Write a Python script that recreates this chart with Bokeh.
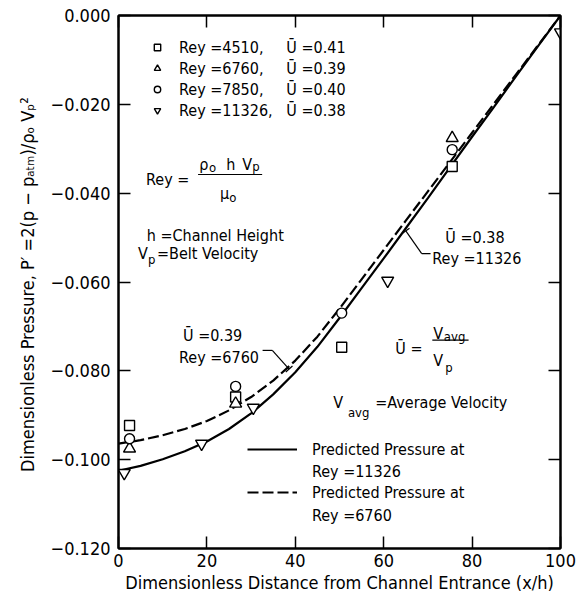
from math import pi
from bokeh.plotting import figure
from bokeh.models import (Range1d, LinearAxis, FixedTicker, CustomJSTickFormatter,
                          Label, Arrow, TeeHead, Legend, LegendItem)
from bokeh.embed import file_html
from bokeh.resources import INLINE

FONT = "DejaVu Sans Condensed, Liberation Sans, sans-serif"

# ---------------- data ----------------
rey4510_x = [2.5, 26.5, 50.5, 75.5]
rey4510_y = [-0.0923, -0.0859, -0.0747, -0.0340]
rey6760_x = [2.5, 26.5, 75.5]
rey6760_y = [-0.0975, -0.0874, -0.0276]
rey7850_x = [2.5, 26.5, 50.5, 75.5]
rey7850_y = [-0.0953, -0.0835, -0.0670, -0.0302]
rey11326_x = [1.3, 18.8, 30.5, 60.9, 100.0]
rey11326_y = [-0.1030, -0.0964, -0.0883, -0.0597, -0.0038]

curve_x = [0, 5, 10, 15, 20, 25, 30, 35, 40, 45, 50, 55, 60, 65, 70, 75, 80, 85, 90, 95, 100]
pred_11326 = [-0.1025, -0.1014, -0.0999, -0.0981, -0.0959, -0.0931, -0.0896, -0.0853, -0.0803,
              -0.0746, -0.0681, -0.0614, -0.0547, -0.0479, -0.0411, -0.0342, -0.0273, -0.0205,
              -0.0136, -0.0068, 0.0]
pred_6760 = [-0.0964, -0.0956, -0.0945, -0.0931, -0.0913, -0.0889, -0.0859, -0.0822, -0.0777,
             -0.0723, -0.0660, -0.0594, -0.0528, -0.0462, -0.0396, -0.0330, -0.0264, -0.0198,
             -0.0132, -0.0066, 0.0]

x_ticks = [0, 20, 40, 60, 80, 100]
y_ticks = [-0.12, -0.10, -0.08, -0.06, -0.04, -0.02, 0.0]

NB = "\u00a0"
series_labels = ["Rey =4510," + NB * 5 + "Ū =0.41",
                 "Rey =6760," + NB * 5 + "Ū =0.39",
                 "Rey =7850," + NB * 5 + "Ū =0.40",
                 "Rey =11326," + NB * 3 + "Ū =0.38"]
line_labels = ["Predicted Pressure at", "Predicted Pressure at"]

x_title = "Dimensionless Distance from Channel Entrance (x/h)"
y_title = "Dimensionless Pressure,  P′ =2(p − pₐₜₘ)/ρₒ Vₚ²"

# ---------------- figure ----------------
p = figure(width=580, height=598, x_range=Range1d(0, 100), y_range=Range1d(-0.12, 0.0),
           output_backend="svg", toolbar_location=None,
           min_border_left=118, min_border_right=20, min_border_top=15, min_border_bottom=50,
           background_fill_color="white", border_fill_color="white")
p.xgrid.visible = False
p.ygrid.visible = False
p.outline_line_color = "black"
p.outline_line_width = 2

fmt = CustomJSTickFormatter(code="return (tick < 0 ? '\u2212' : '') + Math.abs(tick).toFixed(3);")
blank = CustomJSTickFormatter(code="return '';")


def style_axis(ax, ticks, show_labels, standoff=6):
    ax.ticker = FixedTicker(ticks=ticks)
    ax.axis_line_width = 2
    ax.axis_line_color = "black"
    ax.major_tick_in = 12
    ax.major_tick_out = 0
    ax.major_tick_line_width = 1.5
    ax.minor_tick_line_color = None
    ax.major_label_text_font = FONT
    ax.major_label_text_color = "black"
    if show_labels:
        ax.major_label_text_font_size = "18px"
        ax.major_label_standoff = standoff
    else:
        ax.formatter = blank
        ax.major_label_text_font_size = "1px"
        ax.major_label_standoff = 0


xa = p.xaxis[0]
ya = p.yaxis[0]
style_axis(xa, x_ticks, True, 5)
style_axis(ya, y_ticks, True, 8)
ya.formatter = fmt
for ax, title, standoff in ((xa, x_title, 2), (ya, y_title, 10)):
    ax.axis_label = title
    ax.axis_label_standoff = standoff
    ax.axis_label_text_font = FONT
    ax.axis_label_text_font_size = "18px"
    ax.axis_label_text_font_style = "normal"
    ax.axis_label_text_color = "black"

top_axis = LinearAxis()
right_axis = LinearAxis()
style_axis(top_axis, x_ticks, False)
style_axis(right_axis, y_ticks, False)
p.add_layout(top_axis, "above")
p.add_layout(right_axis, "right")

# ---------------- curves ----------------
r_solid = p.line(curve_x, pred_11326, line_color="black", line_width=2.2)
r_dash = p.line(curve_x, pred_6760, line_color="black", line_width=2.2, line_dash="11 4")

# ---------------- data points ----------------
mk = dict(fill_color="white", line_color="black", line_width=1.4)
r_sq = p.scatter(rey4510_x, rey4510_y, marker="square", size=10, **mk)
r_tri = p.scatter(rey6760_x, rey6760_y, marker="triangle", size=12, **mk)
r_cir = p.scatter(rey7850_x, rey7850_y, marker="circle", size=10, **mk)
r_inv = p.scatter(rey11326_x, rey11326_y, marker="inverted_triangle", size=12, **mk)

leg_style = dict(orientation="vertical", glyph_height=20, padding=0, margin=0,
                 border_line_color=None, background_fill_alpha=0, label_text_font=FONT,
                 label_text_font_size="16px", label_text_color="black")
leg1 = Legend(items=[LegendItem(label=series_labels[0], renderers=[r_sq]),
                     LegendItem(label=series_labels[1], renderers=[r_tri]),
                     LegendItem(label=series_labels[2], renderers=[r_cir]),
                     LegendItem(label=series_labels[3], renderers=[r_inv])],
              location=(31, 428), glyph_width=16, label_standoff=14, spacing=1, **leg_style)
p.add_layout(leg1)

leg2 = Legend(items=[LegendItem(label=line_labels[0], renderers=[r_solid]),
                     LegendItem(label=line_labels[1], renderers=[r_dash])],
              location=(129, 46), glyph_width=50, label_standoff=15, spacing=23, **leg_style)
p.add_layout(leg2)


# ---------------- text annotations (inside the frame) ----------------
def txt(x, y, s, size="16px", **kw):
    p.add_layout(Label(x=x, y=y, text=s, text_font=FONT, text_font_size=size,
                       text_color="black", text_baseline="alphabetic", **kw))


def sub(x, y, s):
    txt(x, y, s, size="13px")


def rule(x0, x1, y0, y1=None, head=None):
    p.add_layout(Arrow(x_start=x0, y_start=y0, x_end=x1, y_end=y0 if y1 is None else y1,
                       start=None, end=head, line_color="black", line_width=1.2))


# Rey = rho_o h V_p / mu_o
txt(6.23, -0.0369, "Rey =")
txt(18.28, -0.03355, "ρ")
sub(20.5, -0.0342, "o")
txt(24.35, -0.03355, "h")
txt(27.97, -0.03355, "V")
sub(30.24, -0.0340, "p")
rule(18.0, 32.5, -0.0358)
txt(22.99, -0.04008, "μ")
sub(25.03, -0.04098, "o")

txt(6.39, -0.04953, "h =Channel Height")
txt(4.42, -0.05358, "V")
sub(6.68, -0.0550, "p")
txt(8.72, -0.05358, "=Belt Velocity")

# U = V_avg / V_p
txt(62.63, -0.07497, "Ū =")
txt(71.2, -0.0716, "V")
sub(73.6, -0.0723, "avg")
rule(71.0, 79.2, -0.0731)
txt(71.2, -0.07767, "V")
sub(73.95, -0.0792, "p")

txt(48.58, -0.0872, "V")
sub(51.9, -0.0894, "avg")
txt(58.1, -0.0872, "=Average Velocity")

# curve call-outs
txt(14.6, -0.07205, "Ū =0.39")
txt(13.7, -0.0770, "Rey =6760")
rule(32.6, 34.8, -0.0754)
rule(34.8, 38.6, -0.0754, -0.0796, TeeHead(size=9, line_width=1.2, line_color="black"))

txt(73.95, -0.0500, "Ū =0.38")
txt(71.0, -0.0547, "Rey =11326")
rule(70.6, 68.6, -0.0536)
rule(68.6, 65.0, -0.0536, -0.0485, TeeHead(size=9, line_width=1.2, line_color="black"))

# second lines of the line legend
txt(43.76, -0.1026, "Rey =11326")
txt(43.76, -0.1125, "Rey =6760")

open("out.html", "w").write(file_html(p, INLINE))
